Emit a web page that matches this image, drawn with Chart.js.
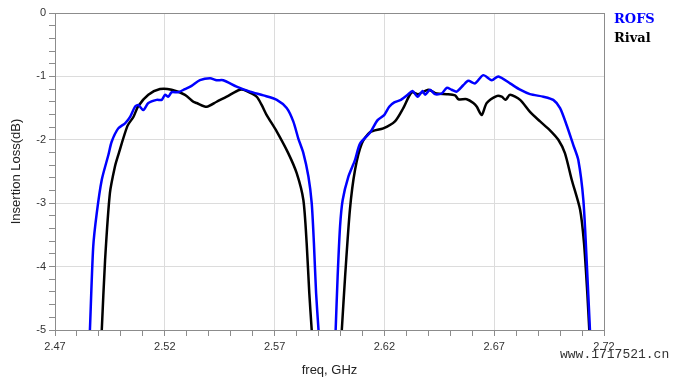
<!DOCTYPE html>
<html>
<head>
<meta charset="utf-8">
<script src="https://cdn.jsdelivr.net/npm/chart.js@4/dist/chart.umd.min.js"></script>
<style>
  html, body { margin: 0; padding: 0; background: #fff; }
  #wrap { position: relative; width: 673px; height: 378px; }
  #legend { position: absolute; left: 614px; top: 9px; font-family: "DejaVu Serif", "Liberation Serif", serif; font-weight: bold; font-size: 13px; line-height: 19px; }
  #wm { position: absolute; left: 560px; top: 347px; font-family: "Liberation Mono", "DejaVu Sans Mono", monospace; font-size: 13px; color: #333; }
</style>
</head>
<body>
<div id="wrap">
  <canvas id="c" width="673" height="378"></canvas>
  <div id="legend"></div>
  <div id="wm">www.1717521.cn</div>
</div>
<script>
// ---- data ----
const seriesNames = ["ROFS", "Rival"];
const rofsFreq = [2.4859, 2.4874, 2.4890, 2.4913, 2.4943, 2.4958, 2.4988, 2.5019, 2.5042, 2.5064, 2.5079, 2.5102, 2.5125, 2.5163, 2.5186, 2.5201, 2.5216, 2.5231, 2.5261, 2.5292, 2.5322, 2.5360, 2.5406, 2.5436, 2.5466, 2.5527, 2.5588, 2.5649, 2.5710, 2.5755, 2.5785, 2.5808, 2.5831, 2.5854, 2.5869, 2.5879, 2.5889, 2.5900,
  2.5940,
  2.5978, 2.5987, 2.5998, 2.6010, 2.6036, 2.6066, 2.6089, 2.6134, 2.6169, 2.6199, 2.6222, 2.6245, 2.6275, 2.6306, 2.6328, 2.6351, 2.6374, 2.6385, 2.6408, 2.6430, 2.6461, 2.6484, 2.6506, 2.6529, 2.6559, 2.6582, 2.6613, 2.6650, 2.6689, 2.6719, 2.6772, 2.6818, 2.6863, 2.6924, 2.6969, 2.7000, 2.7030, 2.7060, 2.7083, 2.7106, 2.7121, 2.7136];
const rofsLoss = [-5.0, -3.69, -3.16, -2.63, -2.24, -2.03, -1.82, -1.74, -1.64, -1.48, -1.45, -1.53, -1.42, -1.37, -1.37, -1.29, -1.32, -1.25, -1.25, -1.20, -1.15, -1.06, -1.03, -1.06, -1.06, -1.16, -1.24, -1.30, -1.37, -1.50, -1.71, -1.98, -2.21, -2.58, -3.00, -3.63, -4.42, -5.0,
  null,
  -5.0, -4.16, -3.37, -2.95, -2.58, -2.32, -2.06, -1.89, -1.69, -1.61, -1.48, -1.41, -1.37, -1.29, -1.23, -1.32, -1.23, -1.29, -1.21, -1.28, -1.27, -1.18, -1.21, -1.24, -1.14, -1.07, -1.11, -0.98, -1.06, -1.00, -1.11, -1.21, -1.28, -1.32, -1.37, -1.50, -1.77, -2.08, -2.32, -2.95, -3.90, -5.0];
const rivalFreq = [2.4913, 2.4928, 2.4950, 2.4973, 2.4988, 2.5030, 2.5057, 2.5079, 2.5125, 2.5178, 2.5231, 2.5292, 2.5330, 2.5345, 2.5391, 2.5436, 2.5482, 2.5542, 2.5573, 2.5618, 2.5641, 2.5664, 2.5710, 2.5762, 2.5801, 2.5831, 2.5846, 2.5858, 2.5869,
  2.5940,
  2.6006, 2.6021, 2.6043, 2.6066, 2.6097, 2.6134, 2.6195, 2.6248, 2.6286, 2.6324, 2.6354, 2.6400, 2.6438, 2.6484, 2.6522, 2.6537, 2.6575, 2.6605, 2.6621, 2.6643, 2.6666, 2.6711, 2.6734, 2.6752, 2.6772, 2.6818, 2.6863, 2.6909, 2.6954, 2.6992, 2.7022, 2.7053, 2.7091, 2.7109, 2.7124, 2.7133];
const rivalLoss = [-5.0, -3.90, -2.84, -2.42, -2.24, -1.78, -1.64, -1.47, -1.29, -1.20, -1.21, -1.29, -1.40, -1.42, -1.48, -1.40, -1.32, -1.21, -1.23, -1.32, -1.45, -1.61, -1.87, -2.21, -2.53, -2.95, -3.63, -4.42, -5.0,
  null,
  -5.0, -4.16, -3.10, -2.48, -2.06, -1.88, -1.82, -1.71, -1.50, -1.25, -1.28, -1.21, -1.27, -1.28, -1.30, -1.36, -1.36, -1.42, -1.48, -1.61, -1.42, -1.31, -1.32, -1.37, -1.29, -1.37, -1.56, -1.71, -1.85, -2.00, -2.21, -2.63, -3.10, -3.63, -4.42, -5.0];
const xMin = 2.47, xMax = 2.72, yMin = -5, yMax = 0;

const toPts = (xs, ys) => xs.map((x, i) => ({ x: x, y: ys[i] }));
const isMajorX = v => Math.round(v * 100) % 5 === 2;
const isMajorY = v => Math.abs(v - Math.round(v)) < 1e-6;

const frame = {
  id: 'frame',
  afterDraw(chart) {
    const a = chart.chartArea, ctx = chart.ctx;
    ctx.save();
    ctx.strokeStyle = '#8c8c8c';
    ctx.lineWidth = 1;
    ctx.strokeRect(Math.round(a.left) + 0.5, Math.round(a.top) + 0.5, Math.round(a.right - a.left), Math.round(a.bottom - a.top));
    ctx.restore();
  }
};

const colors = ['#0000ff', '#000000'];
const chart = new Chart(document.getElementById('c'), {
  type: 'line',
  data: {
    datasets: [
      { label: seriesNames[0], data: toPts(rofsFreq, rofsLoss), borderColor: colors[0], borderWidth: 2.5, pointRadius: 0, fill: false, spanGaps: false, tension: 0.25 },
      { label: seriesNames[1], data: toPts(rivalFreq, rivalLoss), borderColor: colors[1], borderWidth: 2.5, pointRadius: 0, fill: false, spanGaps: false, tension: 0.25 }
    ]
  },
  options: {
    responsive: false,
    animation: false,
    events: [],
    layout: { padding: { top: 13, right: 69, left: 0, bottom: 0 } },
    plugins: { legend: { display: false }, tooltip: { enabled: false } },
    scales: {
      x: {
        type: 'linear', min: xMin, max: xMax,
        afterFit(s) { s.height = 48; },
        ticks: {
          stepSize: 0.01, autoSkip: false, maxRotation: 0, padding: 4,
          color: '#333', font: { family: 'Liberation Sans', size: 11 },
          callback: v => isMajorX(v) ? v.toFixed(2) : ''
        },
        grid: {
          tickLength: 6,
          color: c => (c.tick && isMajorX(c.tick.value)) ? '#dcdcdc' : 'rgba(0,0,0,0)',
          tickColor: '#8c8c8c'
        },
        border: { color: '#8c8c8c' },
        title: { display: true, text: 'freq, GHz', color: '#222', font: { family: 'Liberation Sans', size: 13 }, padding: { top: 0, bottom: 0 } }
      },
      y: {
        type: 'linear', min: yMin, max: yMax,
        afterFit(s) { s.width = 55; },
        ticks: {
          stepSize: 0.2, autoSkip: false, padding: 3,
          color: '#333', font: { family: 'Liberation Sans', size: 11 },
          callback: v => isMajorY(v) ? String(Math.round(v)) : ''
        },
        grid: {
          tickLength: 6,
          color: c => (c.tick && isMajorY(c.tick.value)) ? '#dcdcdc' : 'rgba(0,0,0,0)',
          tickColor: '#8c8c8c'
        },
        border: { color: '#8c8c8c' },
        title: { display: true, text: 'Insertion Loss(dB)', color: '#222', font: { family: 'Liberation Sans', size: 13 }, padding: { top: 9, bottom: 4 } }
      }
    }
  },
  plugins: [frame]
});

const lg = document.getElementById('legend');
chart.data.datasets.forEach(d => {
  const el = document.createElement('div');
  el.textContent = d.label;
  el.style.color = d.borderColor;
  lg.appendChild(el);
});
</script>
</body>
</html>
